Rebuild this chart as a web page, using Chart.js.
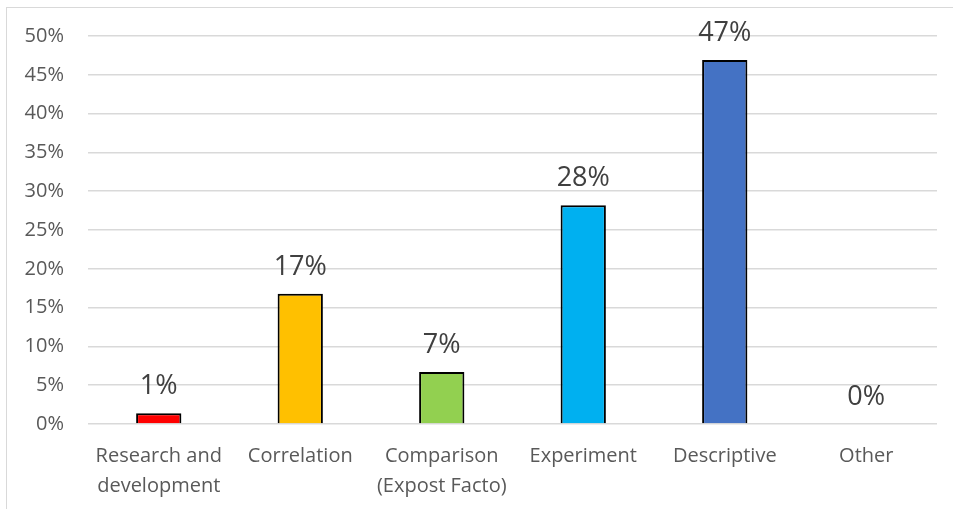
<!DOCTYPE html>
<html>
<head>
<meta charset="utf-8">
<script src="https://cdn.jsdelivr.net/npm/chart.js@4.4.0/dist/chart.umd.min.js"></script>
<style>
  body { margin: 0; background: #fff; }
  #wrap { position: relative; width: 953px; height: 509px; overflow: hidden; }
  #frame { position: absolute; left: 6px; top: 7px; right: -2px; bottom: -2px;
           border-top: 1px solid #d9d9d9; border-left: 1px solid #d9d9d9; }
  canvas { position: absolute; left: 0; top: 0; }
</style>
</head>
<body>
<div id="wrap">
  <div id="frame"></div>
  <canvas id="barChart" width="953" height="509"></canvas>
</div>
<script>
// Research types and their shares (percent)
const categories = [
  ["Research and", "development"],
  "Correlation",
  ["Comparison", "(Expost Facto)"],
  "Experiment",
  "Descriptive",
  "Other"
];
const shares = [1.4, 16.8, 6.7, 28.2, 46.9, 0];
const barColors = ["#ff0000", "#ffc000", "#92d050", "#00b0f0", "#4472c4", "#a5a5a5"];
const yTicks = [0, 5, 10, 15, 20, 25, 30, 35, 40, 45, 50];

// Draw the value labels above each bar
const valueLabels = {
  id: "valueLabels",
  afterDatasetsDraw(chart) {
    const ctx = chart.ctx;
    const meta = chart.getDatasetMeta(0);
    ctx.save();
    ctx.font = "27px 'Open Sans'";
    ctx.fillStyle = "#404040";
    ctx.textAlign = "center";
    ctx.textBaseline = "alphabetic";
    meta.data.forEach(function(bar, i) {
      ctx.fillText(Math.round(shares[i]) + "%", bar.x, bar.y - 19);
    });
    ctx.restore();
  }
};

const ctx = document.getElementById("barChart").getContext("2d");
new Chart(ctx, {
  type: "bar",
  data: {
    labels: categories,
    datasets: [{
      data: shares,
      backgroundColor: barColors,
      borderColor: "#000000",
      borderWidth: 2,
      categoryPercentage: 1,
      barPercentage: 0.32
    }]
  },
  options: {
    responsive: false,
    animation: false,
    layout: { padding: { top: 36, right: 16, left: 0, bottom: 0 } },
    plugins: {
      legend: { display: false },
      tooltip: { enabled: false }
    },
    scales: {
      y: {
        min: 0,
        max: 50,
        afterBuildTicks(axis) {
          axis.ticks = yTicks.map(function(v) { return { value: v }; });
        },
        afterFit(axis) { axis.width = 88; },
        grid: { color: "#d9d9d9", lineWidth: 1.5, drawTicks: false },
        border: { display: false },
        ticks: {
          padding: 24,
          color: "#595959",
          font: { family: "'Open Sans'", size: 20 },
          callback: function(v) { return v + "%"; }
        }
      },
      x: {
        afterFit(axis) { axis.height = 85; },
        grid: { display: false, drawTicks: false },
        border: { display: false },
        ticks: {
          padding: 17,
          color: "#595959",
          maxRotation: 0,
          autoSkip: false,
          font: { family: "'Open Sans'", size: 20, lineHeight: 1.5 }
        }
      }
    }
  },
  plugins: [valueLabels]
});
</script>
</body>
</html>
